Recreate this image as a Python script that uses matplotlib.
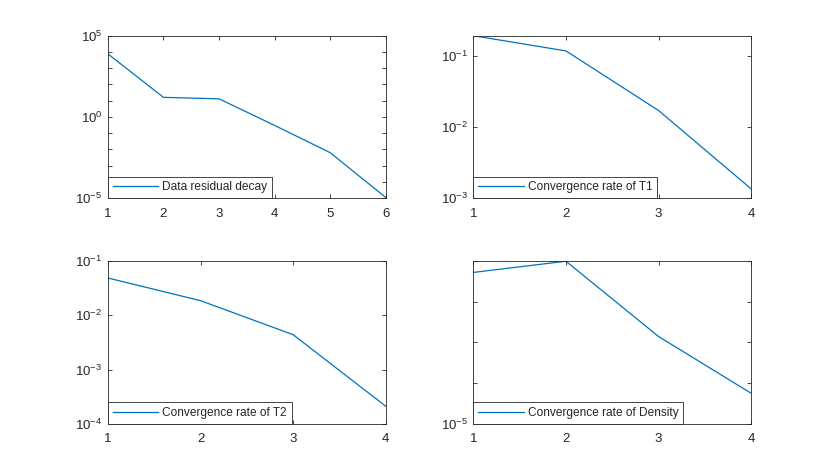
import numpy as np
import matplotlib.pyplot as plt
from matplotlib.ticker import FixedLocator, NullLocator, FuncFormatter

plt.rcParams['font.family'] = ['Liberation Sans', 'DejaVu Sans']
plt.rcParams['mathtext.fontset'] = 'custom'
plt.rcParams['mathtext.rm'] = 'Liberation Sans'
plt.rcParams['mathtext.it'] = 'Liberation Sans'

# values
x_res = [1, 2, 3, 4, 5, 6]
y_res = [7600, 16, 13, 0.3, 0.0063, 1.1e-5]

x_t1 = [1, 2, 3, 4]
y_t1 = [0.195, 0.119, 0.0172, 0.00135]

x_t2 = [1, 2, 3, 4]
y_t2 = [0.049, 0.0187, 0.0044, 2.1e-4]

x_rho = [1, 2, 3, 4]
y_rho = [0.053, 0.1, 1.4e-3, 5.6e-5]

labels = ['Data residual decay', 'Convergence rate of T1',
          'Convergence rate of T2', 'Convergence rate of Density']

# per panel: y limits, decade ticks, which decades get a label
panels = [
    (x_res, y_res, (1e-5, 1e5), range(-5, 6), [-5, 0, 5]),
    (x_t1, y_t1, (1e-3, 0.195), range(-3, 0), [-3, -2, -1]),
    (x_t2, y_t2, (1e-4, 1e-1), range(-4, 0), [-4, -3, -2, -1]),
    (x_rho, y_rho, (1e-5, 1e-1), range(-5, 0), [-5]),
]

blue = '#0072BD'
dark = '#262626'

fig = plt.figure(figsize=(8.3, 4.76), dpi=100)
pos = [(0.13, 0.5838), (0.5703, 0.5838), (0.13, 0.11), (0.5703, 0.11)]

for (px, py), (xs, ys, ylim, decs, shown), lab in zip(pos, panels, labels):
    ax = fig.add_axes([px, py, 0.3347, 0.3412])
    ax.plot(xs, ys, color=blue, lw=0.9, label=lab)
    ax.set_yscale('log')
    ax.set_xlim(xs[0], xs[-1])
    ax.set_ylim(*ylim)
    ax.set_xticks(xs)
    ax.yaxis.set_major_locator(FixedLocator([10.0 ** d for d in decs]))
    ax.yaxis.set_minor_locator(NullLocator())
    ax.yaxis.set_major_formatter(FuncFormatter(
        lambda v, p, s=shown: '$10^{%d}$' % round(np.log10(v))
        if round(np.log10(v)) in s else ''))
    ax.tick_params(direction='in', top=True, right=True, length=3,
                   width=0.6, color=dark, labelcolor=dark, labelsize=9.5)
    ax.tick_params(axis='x', pad=7)
    ax.tick_params(axis='y', pad=4)
    for sp in ax.spines.values():
        sp.set_color(dark)
        sp.set_linewidth(0.6)
    leg = ax.legend(loc='lower left', borderaxespad=0, fontsize=8.6,
                    handlelength=3.8, handletextpad=0.35, fancybox=False,
                    framealpha=1, edgecolor=dark, borderpad=0.4)
    leg.get_frame().set_linewidth(0.6)
    for t in leg.get_texts():
        t.set_color(dark)

fig.savefig('out.png', dpi=100)
